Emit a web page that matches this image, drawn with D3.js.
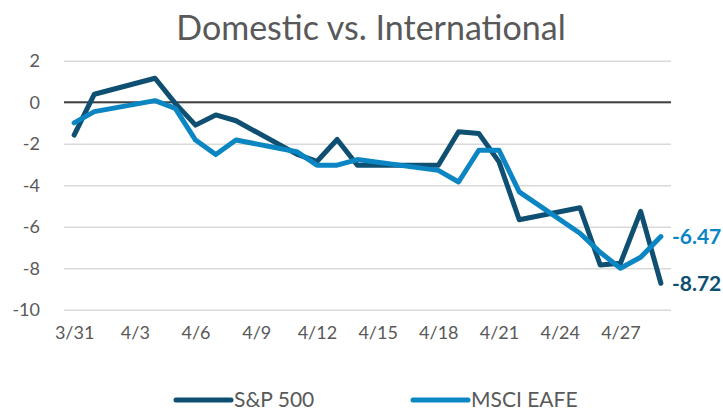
<!DOCTYPE html>
<html>
<head>
<meta charset="utf-8">
<script src="https://cdn.jsdelivr.net/npm/d3@7"></script>
<style>
  html, body { margin: 0; padding: 0; background: #fff; }
  svg { display: block; font-family: Lato, "Open Sans", sans-serif; }
</style>
</head>
<body>
<svg id="chart" width="723" height="412"></svg>
<script>
// ---- data ----
const title = "Domestic vs. International";
const dates = ["2022-03-31","2022-04-01","2022-04-04","2022-04-05","2022-04-06","2022-04-07","2022-04-08",
  "2022-04-11","2022-04-12","2022-04-13","2022-04-14","2022-04-18","2022-04-19","2022-04-20","2022-04-21",
  "2022-04-22","2022-04-25","2022-04-26","2022-04-27","2022-04-28","2022-04-29"];
const sp500 = [-1.58, 0.39, 1.16, -0.05, -1.10, -0.61, -0.89,
  -2.50, -2.85, -1.79, -3.03, -3.03, -1.42, -1.50, -2.87,
  -5.66, -5.08, -7.84, -7.76, -5.26, -8.72];
const eafe = [-0.99, -0.45, 0.08, -0.29, -1.82, -2.52, -1.82,
  -2.38, -3.03, -3.03, -2.76, -3.28, -3.84, -2.31, -2.31,
  -4.32, -6.31, -7.23, -8.00, -7.47, -6.47];
const seriesNames = ["S&P 500", "MSCI EAFE"];
const xTickLabels = ["3/31","4/3","4/6","4/9","4/12","4/15","4/18","4/21","4/24","4/27"];
const yTicks = [2, 0, -2, -4, -6, -8, -10];
const endLabels = ["-8.72", "-6.47"];

// ---- layout ----
const svg = d3.select("#chart");
const colors = ["#0e4f72", "#0b86c3"];
const textColor = "#595959";
const parse = d3.utcParse("%Y-%m-%d");
const day = 864e5;
const start = parse("2022-03-31"), end = parse("2022-04-29");
const x = d3.scaleUtc()
  .domain([new Date(+start - day/2), new Date(+end + day/2)])
  .range([64, 671]);
const y = d3.scaleLinear().domain([-10, 2]).range([309.8, 60.8]);

// title
svg.append("text").attr("x", 371).attr("y", 40)
  .attr("text-anchor", "middle").attr("fill", textColor)
  .attr("font-size", 34).attr("font-weight", 400).text(title);

// gridlines + y labels
const yAxis = d3.axisLeft(y).tickValues(yTicks).tickSize(-(671 - 64)).tickFormat(d => String(d));
const gy = svg.append("g").attr("transform", "translate(64,0)").call(yAxis);
gy.select(".domain").remove();
gy.selectAll(".tick line").attr("stroke", "#d9d9d9").attr("stroke-width", 1.5);
gy.selectAll(".tick text").attr("x", -24).attr("fill", textColor)
  .attr("font-size", 18).attr("font-family", "Lato, sans-serif");

// zero line
svg.append("line").attr("x1", 64).attr("x2", 671)
  .attr("y1", y(0)).attr("y2", y(0))
  .attr("stroke", "#404040").attr("stroke-width", 2);

// x labels
const tickDates = xTickLabels.map(s => {
  const [m, d] = s.split("/").map(Number);
  return new Date(Date.UTC(2022, m - 1, d));
});
const xAxis = d3.axisBottom(x).tickValues(tickDates).tickSize(0)
  .tickFormat((d, i) => xTickLabels[i]);
const gx = svg.append("g").attr("transform", "translate(0,323)").call(xAxis);
gx.select(".domain").remove();
gx.selectAll(".tick text").attr("fill", textColor)
  .attr("font-size", 18).attr("font-family", "Lato, sans-serif");

// lines
const line = d3.line().x((d, i) => x(parse(dates[i]))).y(d => y(d));
[sp500, eafe].forEach((s, k) => {
  svg.append("path").datum(s)
    .attr("d", line)
    .attr("fill", "none")
    .attr("stroke", colors[k])
    .attr("stroke-width", 5)
    .attr("stroke-linejoin", "round")
    .attr("stroke-linecap", "round");
});

// end labels
[sp500, eafe].forEach((s, k) => {
  const last = s.length - 1;
  svg.append("text")
    .attr("x", x(parse(dates[last])) + 11)
    .attr("y", y(s[last]))
    .attr("dy", "0.35em")
    .attr("fill", colors[k])
    .attr("font-size", 21).attr("font-weight", 700)
    .text(endLabels[k]);
});

// legend
const legendX = [176, 413];
seriesNames.forEach((name, k) => {
  const g = svg.append("g").attr("transform", `translate(${legendX[k]},400)`);
  g.append("line").attr("x1", 0).attr("x2", 55).attr("y1", 0).attr("y2", 0)
    .attr("stroke", colors[k]).attr("stroke-width", 5).attr("stroke-linecap", "round");
  g.append("text").attr("x", 58).attr("y", 0).attr("dy", "0.35em")
    .attr("fill", textColor).attr("font-size", 21).text(name);
});
</script>
</body>
</html>
